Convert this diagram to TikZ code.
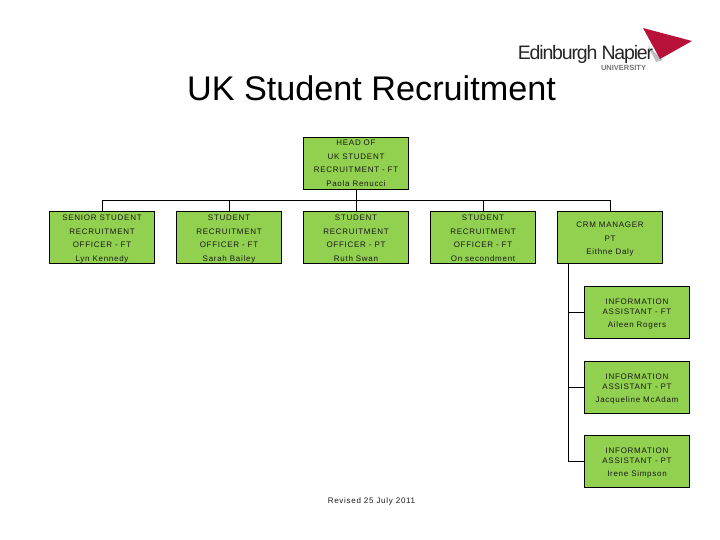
\documentclass[tikz,border=0pt]{standalone}
\usepackage{fontspec}
\setmainfont{Liberation Sans}
\newfontfamily\boxfont[LetterSpace=9]{Liberation Sans}
\definecolor{boxgreen}{HTML}{92D050}
\definecolor{logored}{HTML}{B9123A}

\begin{document}
\begin{tikzpicture}[%
  x=1pt, y=-1pt,
  post/.style = {draw=black, fill=boxgreen, line width=0.9pt, minimum width=105pt,
    minimum height=52pt, inner sep=0pt, align=center, text=black!90,
    execute at end node={\rule[-2pt]{0pt}{#1}}},
  tall/.style = {post=#1, font=\boxfont\fontsize{8}{13.5}\selectfont},
  tall/.default = 51pt,
  wide/.style = {post=34.8pt, font=\boxfont\fontsize{8}{10}\selectfont},
  link/.style = {line width=0.9pt},
]
  \useasboundingbox (0,0) rectangle (720,540);

  % logo
  \fill[black!25] (648,46) -- (663,60) -- (656,62) -- cycle;
  \fill[logored] (643,28) -- (692,41) -- (660,59) -- cycle;
  \node[font=\fontsize{19.5}{20}\selectfont, text=black!85, inner sep=0pt] (brand) at (585.5,54) {\addfontfeature{LetterSpace=-6}Edinburgh Napier};
  \node[font=\bfseries\fontsize{7.5}{8}\selectfont, text=black!55, inner sep=0pt] (uni) at (623.5,67.5) {UNIVERSITY};

  \node[font=\fontsize{34.2}{36}\selectfont, inner sep=0pt] (title) at (371.5,88) {UK Student Recruitment};

  % top of the chart
  \node[tall] (head) at (356,163) {HEAD OF\\UK STUDENT\\RECRUITMENT - FT\\Paola Renucci};
  \coordinate (bus) at (356,200);

  \node[tall] (senior) at (102,237.5) {SENIOR STUDENT\\RECRUITMENT\\OFFICER - FT\\Lyn Kennedy};
  \node[tall] (sarah) at (229,237.5) {STUDENT\\RECRUITMENT\\OFFICER - FT\\Sarah Bailey};
  \node[tall] (ruth) at (356,237.5) {STUDENT\\RECRUITMENT\\OFFICER - PT\\Ruth Swan};
  \node[tall] (second) at (483,237.5) {STUDENT\\RECRUITMENT\\OFFICER - FT\\On secondment};
  \node[tall=38.8pt] (crm) at (610,237.5) {CRM MANAGER\\PT\\Eithne Daly};

  \coordinate (spine) at (568.7,263.5);

  \node[wide] (aileen) at (637,312.5) {INFORMATION\\ASSISTANT - FT\\[3pt]Aileen Rogers};
  \node[wide] (jacq) at (637,387) {INFORMATION\\ASSISTANT - PT\\[3pt]Jacqueline McAdam};
  \node[wide] (irene) at (637,461.5) {INFORMATION\\ASSISTANT - PT\\[3pt]Irene Simpson};

  \node[font=\boxfont\fontsize{8}{10}\selectfont, inner sep=0pt, text=black!90] (revised) at (371.5,501) {Revised 25 July 2011};

  % connectors
  \draw[link] (head.south) -- (bus);
  \foreach \n in {senior,sarah,ruth,second,crm}
    \draw[link] (bus) -| (\n.north);
  \foreach \n in {aileen,jacq,irene}
    \draw[link] (spine) |- (\n.west);

\end{tikzpicture}
\end{document}
